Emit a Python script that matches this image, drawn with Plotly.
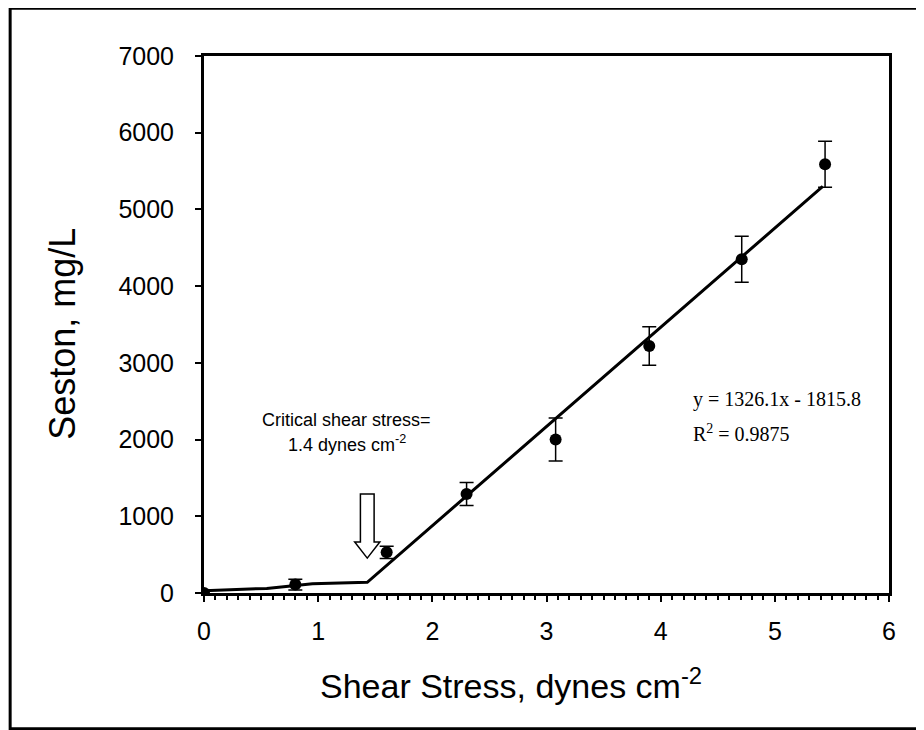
import plotly.graph_objects as go

# measured points (shear stress, seston mean, error)
shear = [0.0, 0.8, 1.6, 2.3, 3.08, 3.9, 4.71, 5.44]
seston = [0, 110, 530, 1290, 2000, 3220, 4350, 5590]
err = [40, 70, 80, 150, 280, 250, 300, 300]

# drawn trend line
line_x = [0.0, 0.55, 0.95, 1.43, 5.42]
line_y = [30, 60, 120, 140, 5300]

x_ticks = [0, 1, 2, 3, 4, 5, 6]
y_ticks = [0, 1000, 2000, 3000, 4000, 5000, 6000, 7000]

fig = go.Figure()

fig.add_trace(go.Scatter(
    x=line_x, y=line_y, mode="lines",
    line=dict(color="black", width=3),
    showlegend=False, hoverinfo="skip",
))

fig.add_trace(go.Scatter(
    x=shear, y=seston, mode="markers",
    marker=dict(color="black", size=12, symbol="circle"),
    error_y=dict(type="data", array=err, visible=True,
                 color="black", thickness=1.5, width=7),
    showlegend=False,
))

# hollow arrow pointing at the critical shear stress
ax, top, neck, tip = 1.43, 1290, 665, 455
sw, hw = 0.06, 0.11
arrow = (f"M {ax - sw},{top} L {ax + sw},{top} L {ax + sw},{neck} "
         f"L {ax + hw},{neck} L {ax},{tip} L {ax - hw},{neck} "
         f"L {ax - sw},{neck} Z")
fig.add_shape(type="path", path=arrow, xref="x", yref="y",
              line=dict(color="black", width=1.5), fillcolor="white")

# outer frame
fig.add_shape(type="rect", xref="paper", yref="paper",
              x0=-0.283, x1=1.07, y0=-0.253, y1=1.089,
              line=dict(color="black", width=3), layer="below")

fig.add_annotation(x=1.25, y=2255, xref="x", yref="y",
                   text="Critical shear stress=", showarrow=False,
                   font=dict(size=18, color="black"))
fig.add_annotation(x=1.25, y=1955, xref="x", yref="y",
                   text="1.4 dynes cm<sup>-2</sup>", showarrow=False,
                   font=dict(size=18, color="black"))

fig.add_annotation(x=4.27, y=2520, xref="x", yref="y", xanchor="left",
                   text="y = 1326.1x - 1815.8", showarrow=False,
                   font=dict(size=20, color="black", family="Liberation Serif"))
fig.add_annotation(x=4.27, y=2090, xref="x", yref="y", xanchor="left",
                   text="R<sup>2</sup> = 0.9875", showarrow=False,
                   font=dict(size=20, color="black", family="Liberation Serif"))

# axis titles
fig.add_annotation(x=0.448, y=-0.168, xref="paper", yref="paper",
                   xanchor="center", yanchor="middle",
                   text="Shear Stress, dynes cm<sup>-2</sup>", showarrow=False,
                   font=dict(size=34, color="black"))
fig.add_annotation(x=-0.207, y=0.483, xref="paper", yref="paper",
                   xanchor="center", yanchor="middle",
                   text="Seston, mg/L", showarrow=False, textangle=-90,
                   font=dict(size=36, color="black"))

fig.update_xaxes(
    range=[0, 6], tickvals=x_ticks, ticks="outside", ticklen=6,
    tickwidth=2, tickcolor="black", ticklabelstandoff=8,
    minor=dict(dtick=0.1, ticks="outside", ticklen=4, tickwidth=1.5,
               tickcolor="black"),
    showline=True, linecolor="black", linewidth=3, mirror=True,
    showgrid=False, zeroline=False,
    tickfont=dict(size=25, color="black"),
)
fig.update_yaxes(
    range=[0, 7000], tickvals=y_ticks, ticks="outside", ticklen=6,
    tickwidth=2, tickcolor="black", ticklabelstandoff=16,
    showline=True, linecolor="black", linewidth=3, mirror=True,
    showgrid=False, zeroline=False,
    tickfont=dict(size=25, color="black"),
)

fig.update_layout(
    width=924, height=730,
    margin=dict(l=196, r=43, t=48, b=145),
    paper_bgcolor="white", plot_bgcolor="white",
    font=dict(family="Liberation Sans, Arial, sans-serif", color="black"),
)

fig.write_html("out.html")
